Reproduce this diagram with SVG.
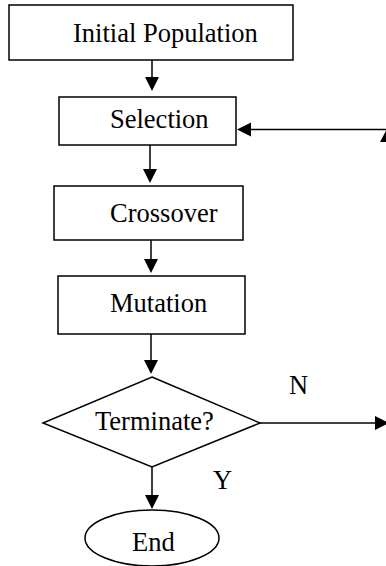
<svg xmlns="http://www.w3.org/2000/svg" width="386" height="566" viewBox="0 0 386 566">
<style>
.box{fill:#fff;stroke:#000;stroke-width:1.5}
.t{font-family:"Liberation Serif","Times New Roman",serif;font-size:26.5px;fill:#000}
.ln{stroke:#000;stroke-width:1.5;fill:none}
.ah{fill:#000;stroke:none}
</style>
<rect width="386" height="566" fill="#fff"/>
<g id="connectors">
<line class="ln" x1="152" y1="60" x2="152" y2="78"/>
<polygon class="ah" points="145,77 159,77 152,91"/>
<line class="ln" x1="150" y1="145" x2="150" y2="170"/>
<polygon class="ah" points="143,169 157,169 150,183"/>
<line class="ln" x1="151" y1="240" x2="151" y2="260"/>
<polygon class="ah" points="144,259 158,259 151,273"/>
<line class="ln" x1="151" y1="334" x2="151" y2="361"/>
<polygon class="ah" points="144,360 158,360 151,374"/>
<line class="ln" x1="152" y1="467" x2="152" y2="496"/>
<polygon class="ah" points="145,495 159,495 152,509"/>
<line class="ln" x1="260" y1="423" x2="376" y2="423"/>
<polygon class="ah" points="375,416 375,430 389,423"/>
<line class="ln" x1="250" y1="129.5" x2="388" y2="129.5"/>
<polygon class="ah" points="251,122.5 251,136.5 237,129.5"/>
<polygon class="ah" points="380,142 387.5,128 395,142"/>
<text class="t" x="289" y="394">N</text>
<text class="t" x="213" y="489">Y</text>
</g>
<g id="initial">
<rect class="box" x="9" y="5" width="284" height="55"/>
<text class="t" x="73" y="42">Initial Population</text>
</g>
<g id="selection">
<rect class="box" x="59" y="97" width="177" height="48"/>
<text class="t" x="110" y="128">Selection</text>
</g>
<g id="crossover">
<rect class="box" x="54" y="186" width="189" height="54"/>
<text class="t" x="110" y="222">Crossover</text>
</g>
<g id="mutation">
<rect class="box" x="58" y="276" width="187" height="58"/>
<text class="t" x="110" y="312">Mutation</text>
</g>
<g id="terminate">
<polygon class="box" points="152,377 260,423 152,467 43,423"/>
<text class="t" x="95" y="430">Terminate?</text>
</g>
<g id="end">
<ellipse class="box" cx="152" cy="538" rx="67" ry="28"/>
<text class="t" x="132" y="551">End</text>
</g>
</svg>
